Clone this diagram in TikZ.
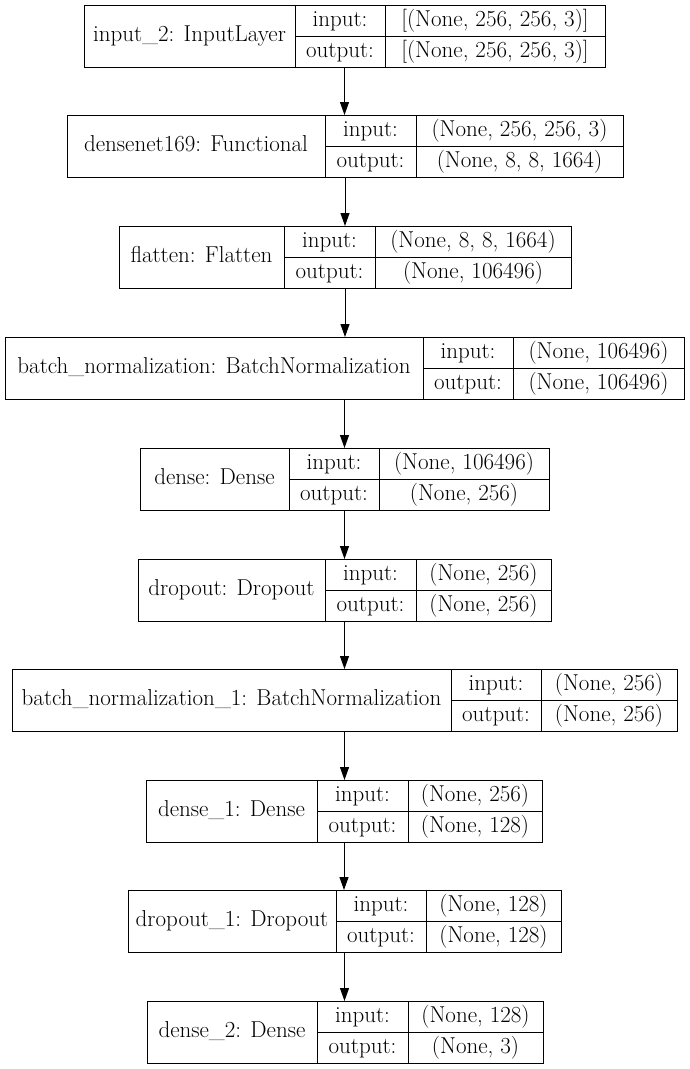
\documentclass[tikz,border=0pt]{standalone}
\usepackage{tikz}
\usetikzlibrary{arrows.meta}

\newcommand{\lfont}{\fontsize{23}{27}\selectfont}
% id, top, left, split 1, split 2, right, name, input, output
\newcommand{\layer}[9]{%
  \node[box, minimum width={#6pt-#3pt}] (#1) at (#3,#2) {};
  \draw[cell] (#4,#2) -- ++(0,62) (#5,#2) -- ++(0,62) (#4,{#2+31}) -- (#6,{#2+31});
  \node[txt] (#1-name) at ({(#3+#4)/2},{#2+31}) {#7};
  \node[txt] (#1-in) at ({(#4+#5)/2},{#2+15.5}) {input:};
  \node[txt] (#1-out) at ({(#4+#5)/2},{#2+46.5}) {output:};
  \node[txt] (#1-inv) at ({(#5+#6)/2},{#2+15.5}) {#8};
  \node[txt] (#1-outv) at ({(#5+#6)/2},{#2+46.5}) {#9};
}

\begin{document}
\begin{tikzpicture}[x=1pt,y=-1pt,
    box/.style={draw,line width=1pt,anchor=north west,inner sep=0pt,outer sep=0pt,minimum height=62pt},
    cell/.style={line width=1pt},
    txt/.style={font=\lfont,inner sep=0pt,text height=16pt,text depth=5pt},
    flow/.style={line width=1pt,-{Triangle[length=13pt,width=9pt]}}]
  \useasboundingbox (0,0) rectangle (689,1069);
  \layer{inp}{5}{84}{295}{385}{605}{input\_2: InputLayer}{[(None, 256, 256, 3)]}{[(None, 256, 256, 3)]}
  \layer{dnet}{115}{67}{325}{416}{623}{densenet169: Functional}{(None, 256, 256, 3)}{(None, 8, 8, 1664)}
  \layer{flat}{226}{119}{284}{375}{571}{flatten: Flatten}{(None, 8, 8, 1664)}{(None, 106496)}
  \layer{bn}{337}{5}{423}{513}{684}{batch\_normalization: BatchNormalization}{(None, 106496)}{(None, 106496)}
  \layer{dense}{448}{140}{289}{379}{549}{dense: Dense}{(None, 106496)}{(None, 256)}
  \layer{drop}{559}{138}{325}{416}{551}{dropout: Dropout}{(None, 256)}{(None, 256)}
  \layer{bna}{669}{12}{451}{541}{677}{batch\_normalization\_1: BatchNormalization}{(None, 256)}{(None, 256)}
  \layer{densea}{780}{146}{317}{408}{542}{dense\_1: Dense}{(None, 256)}{(None, 128)}
  \layer{dropa}{890}{128}{336}{426}{561}{dropout\_1: Dropout}{(None, 128)}{(None, 128)}
  \layer{denseb}{1001}{147}{317}{408}{543}{dense\_2: Dense}{(None, 128)}{(None, 3)}
  \draw[flow] (inp.south) -- (inp.south |- dnet.north);
  \draw[flow] (dnet.south) -- (dnet.south |- flat.north);
  \draw[flow] (flat.south) -- (flat.south |- bn.north);
  \draw[flow] (bn.south) -- (bn.south |- dense.north);
  \draw[flow] (dense.south) -- (dense.south |- drop.north);
  \draw[flow] (drop.south) -- (drop.south |- bna.north);
  \draw[flow] (bna.south) -- (bna.south |- densea.north);
  \draw[flow] (densea.south) -- (densea.south |- dropa.north);
  \draw[flow] (dropa.south) -- (dropa.south |- denseb.north);
\end{tikzpicture}
\end{document}
